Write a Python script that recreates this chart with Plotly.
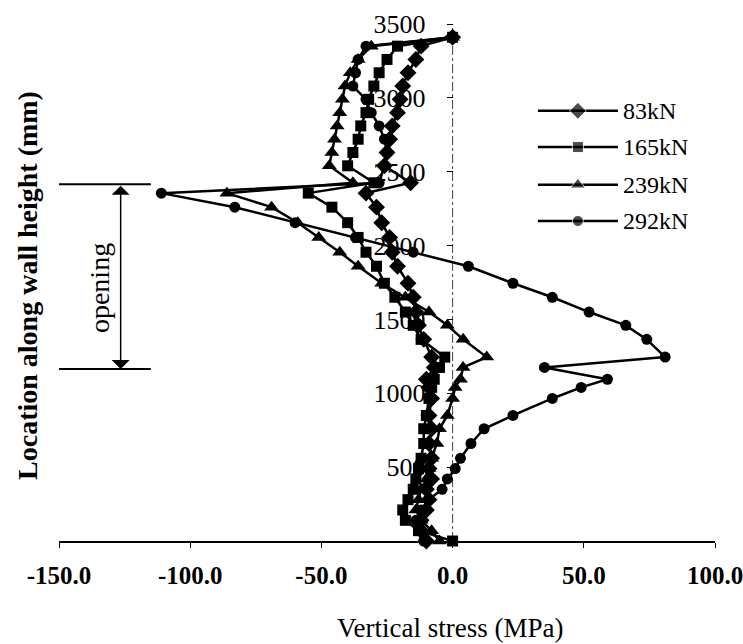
import plotly.graph_objects as go

# Heights of the sampling nodes along the wall (mm), bottom to top
heights = [0, 70, 140, 210, 280, 350, 420, 490, 560, 660, 760, 850, 965, 1040,
           1095, 1175, 1245, 1365, 1460, 1550, 1650, 1745, 1860, 1955, 2055,
           2155, 2260, 2355, 2425, 2540, 2630, 2720, 2810, 2900, 2990, 3080,
           3170, 3260, 3350, 3410]

# Vertical stress (MPa) at each node for the four load levels
stress_83kN = [-10, -12, -12, -10, -9, -10, -8, -9, -8, -9, -8, -9, -8, -9,
               -10, -7, -8, -11, -13, -14, -15, -17, -21, -23, -24,
               -27, -29, -33, -16, -26, -25, -24, -23, -21, -20, -19,
               -17, -14, -12, 0]
stress_165kN = [0, -13, -18, -19, -17, -15, -14, -13, -12, -11, -11, -10, -9, -8,
                -7, -5, -3, -12, -15, -18, -22, -26, -29, -33, -36,
                -40, -46, -55, -30, -40, -38, -36, -35, -33, -32, -30,
                -28, -25, -21, 0]
stress_239kN = [-5, -8, -12, -14, -13, -12, -10, -9, -8, -6, -5, -2, 0, 1,
                3, 4, 13, 4, -2, -9, -18, -27, -36, -43, -51,
                -59, -69, -86, -38, -47, -46, -45, -44, -43, -42, -41,
                -39, -36, -31, 0]
stress_292kN = [-11, -13, -14, -12, -9, -4, -2, 1, 3, 7, 12, 23, 38, 49,
                59, 35, 81, 74, 66, 52, 38, 23, 6, -15, -37,
                -60, -83, -111, -28, -26, -25, -26, -28, -31, -33, -38,
                -37, -36, -33, 0]

series_names = ["83kN", "165kN", "239kN", "292kN"]
series_symbols = ["diamond", "square", "triangle-up", "circle"]
series_sizes = [13, 11, 13, 11]
series_values = [stress_83kN, stress_165kN, stress_239kN, stress_292kN]

# Axis ticks
x_ticks = [-150, -100, -50, 0, 50, 100]
x_tick_text = ["-150.0", "-100.0", "-50.0", "0.0", "50.0", "100.0"]
y_ticks = [500, 1000, 1500, 2000, 2500, 3000, 3500]

# Door opening extent (mm)
opening_top = 2415
opening_bottom = 1165

SERIF = "Liberation Serif"

fig = go.Figure()

for name, sym, size, vals in zip(series_names, series_symbols, series_sizes, series_values):
    fig.add_trace(go.Scatter(
        x=vals, y=heights, mode="lines+markers", name=name,
        line=dict(color="black", width=2.5),
        marker=dict(symbol=sym, size=size, color="black"),
        showlegend=False, cliponaxis=False,
    ))

# Hand-built legend drawn on an overlay axis in paper units
legend_y = [0.832, 0.762, 0.689, 0.619]
for name, sym, size, ly in zip(series_names, series_symbols, series_sizes, legend_y):
    fig.add_trace(go.Scatter(
        x=[0.730, 0.791, 0.852], y=[ly, ly, ly], xaxis="x2", yaxis="y2",
        mode="lines+markers", line=dict(color="black", width=2.5),
        marker=dict(symbol=sym, size=[0, size, 0], color="black"),
        showlegend=False, hoverinfo="skip",
    ))
    fig.add_annotation(x=0.857, y=ly, xref="paper", yref="paper", text=name,
                       showarrow=False, xanchor="left", yanchor="middle",
                       font=dict(family=SERIF, size=24, color="black"))

# Dash-dot vertical axis line at zero stress
fig.add_shape(type="line", x0=0, x1=0, y0=0, y1=3500, xref="x", yref="y",
              line=dict(color="#444", width=1, dash="dashdot"), layer="below")

# Opening markers: two horizontal bars and a double-headed arrow
for yv in (opening_top, opening_bottom):
    fig.add_shape(type="line", x0=-150, x1=-115, y0=yv, y1=yv, xref="x", yref="y",
                  line=dict(color="black", width=2))
fig.add_annotation(x=-126.5, y=opening_bottom, ax=-126.5, ay=opening_top,
                   xref="x", yref="y", axref="x", ayref="y", text="",
                   showarrow=True, arrowside="end+start", arrowhead=1,
                   arrowsize=2, arrowwidth=1.5, arrowcolor="black")
fig.add_annotation(x=-134.5, y=(opening_top + opening_bottom) / 2 - 80,
                   xref="x", yref="y", text="opening", textangle=-90,
                   showarrow=False, xanchor="center", yanchor="middle",
                   font=dict(family=SERIF, size=28, color="black"))

# Axis titles
fig.add_annotation(x=0.596, y=-0.168, xref="paper", yref="paper",
                   text="Vertical stress (MPa)", showarrow=False,
                   xanchor="center", yanchor="middle",
                   font=dict(family=SERIF, size=27, color="black"))
fig.add_annotation(x=-0.049, y=0.495, xref="paper", yref="paper",
                   text="Location along wall height (mm)", textangle=-90,
                   showarrow=False, xanchor="center", yanchor="middle",
                   font=dict(family=SERIF, size=28, color="black", weight="bold"))

fig.update_layout(
    width=743, height=644,
    margin=dict(l=59, r=28, t=24, b=103, autoexpand=False),
    plot_bgcolor="white", paper_bgcolor="white",
    showlegend=False,
    xaxis=dict(range=[-150, 100], tickvals=x_ticks, ticktext=x_tick_text,
               showline=True, linecolor="black", linewidth=1.5,
               ticks="outside", ticklen=5, tickcolor="black",
               ticklabeloverflow="allow", ticklabelstandoff=6, automargin=False,
               showgrid=False, zeroline=False,
               tickfont=dict(family=SERIF, size=25, color="black", weight="bold")),
    yaxis=dict(range=[0, 3500], tickvals=y_ticks, anchor="free", position=0.6,
               showline=False, ticks="outside", ticklen=6, tickcolor="black",
               ticklabelstandoff=16, ticklabeloverflow="allow", automargin=False,
               showgrid=False, zeroline=False,
               tickfont=dict(family=SERIF, size=26, color="black")),
    xaxis2=dict(range=[0, 1], overlaying="x", visible=False, anchor="y2"),
    yaxis2=dict(range=[0, 1], overlaying="y", visible=False, anchor="x2"),
)

fig.write_html("out.html")
